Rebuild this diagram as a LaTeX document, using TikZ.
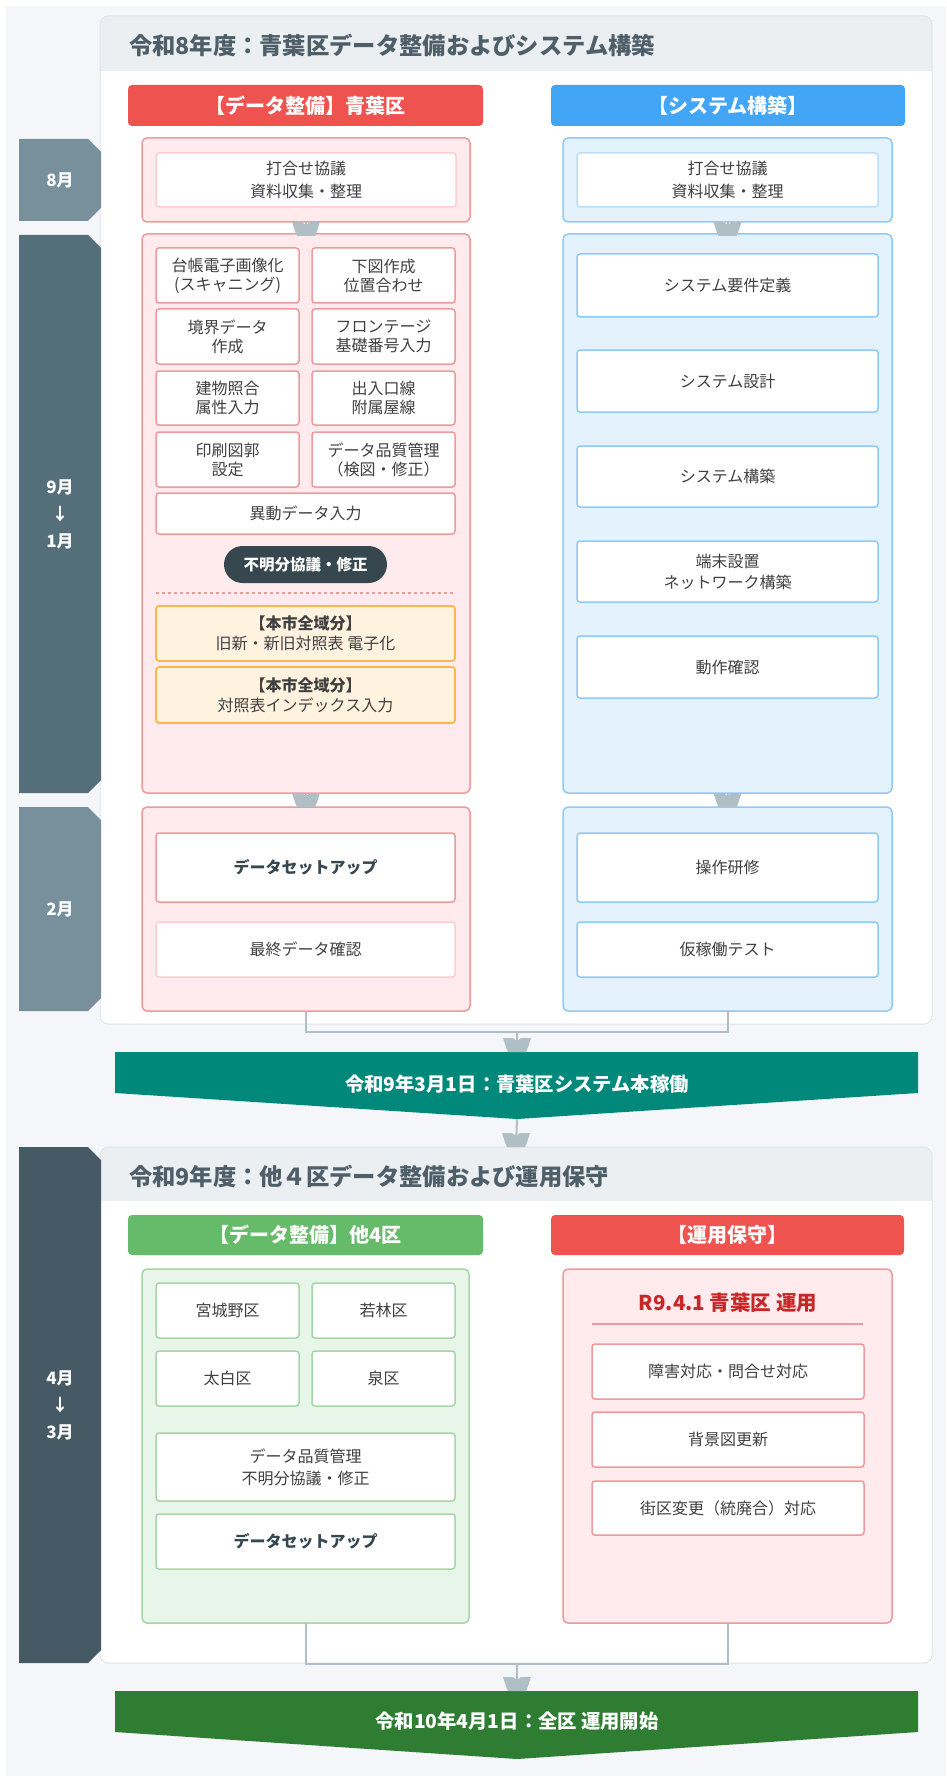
\documentclass[tikz,border=0pt]{standalone}
\usepackage{fontspec}
\setmainfont{Noto Sans CJK JP}
\usetikzlibrary{calc}
\definecolor{pagebg}{HTML}{F4F6F9}
\definecolor{panelborder}{HTML}{DFE4E9}
\definecolor{bandbg}{HTML}{ECEFF1}
\definecolor{titlecol}{HTML}{4E5F69}
\definecolor{redhead}{HTML}{EF5350}
\definecolor{bluehead}{HTML}{42A5F5}
\definecolor{greenhead}{HTML}{66BB6A}
\definecolor{redfill}{HTML}{FFEBEE}
\definecolor{redline}{HTML}{EF9A9A}
\definecolor{redlight}{HTML}{FFCDD2}
\definecolor{bluefill}{HTML}{E3F2FD}
\definecolor{blueline}{HTML}{90CAF9}
\definecolor{bluelight}{HTML}{BBDEFB}
\definecolor{greenfill}{HTML}{E8F5E9}
\definecolor{greenline}{HTML}{A5D6A7}
\definecolor{orangefill}{HTML}{FFF3E0}
\definecolor{orangeline}{HTML}{FFB74D}
\definecolor{pillcol}{HTML}{37474F}
\definecolor{conncol}{HTML}{B0BEC5}
\definecolor{tealcol}{HTML}{00897B}
\definecolor{dkgreen}{HTML}{2E7D32}
\definecolor{txt}{HTML}{404040}
\definecolor{monA}{HTML}{78909C}
\definecolor{monB}{HTML}{546E7A}
\definecolor{monC}{HTML}{455A64}
\definecolor{darkred}{HTML}{C62828}
\newcommand\boxnode[7]{\node[#1, minimum width={(#5-#3)*1pt}, minimum height={(#6-#4)*1pt}] (#2) at ({(#3+#5)/2},{(#4+#6)/2}) {#7};}
\newcommand\monthlab[5]{\fill[#4] (19,#2) -- (88,#2) -- (101,#2+13) -- (101,#3-13) -- (88,#3) -- (19,#3) -- cycle;
  \node[monthtext] (#1) at (60,{(#2+#3)/2}) {#5};}
\newcommand\blobat[1]{\fill[conncol, shift={#1}] (-14,0) -- (-4,0) -- (0,3) -- (4,0) -- (14,0) .. controls (12,6) and (11,10) .. (9,14) -- (-9,14) .. controls (-11,10) and (-12,6) .. (-14,0) -- cycle;}
\tikzset{
  every node/.style={inner sep=0pt, outer sep=0pt, align=center},
  panel/.style={fill=white},
  colhead/.style={rounded corners=4pt, text=white, font=\fontsize{20}{22}\selectfont\bfseries},
  colbox/.style={fill=#1fill, draw=#1line, line width=1.5pt, rounded corners=5pt},
  cellbox/.style={fill=white, draw=#1, line width=1.5pt, rounded corners=3pt, text=txt, font=\fontsize{16}{19}\selectfont},
  boldcell/.style={font=\fontsize{16}{19}\selectfont\bfseries, text=pillcol},
  orangebox/.style={fill=orangefill, draw=orangeline, line width=1.8pt, rounded corners=3pt, text=txt, font=\fontsize{16}{20}\selectfont},
  title/.style={anchor=west, text=titlecol, font=\fontsize{23.3}{26}\selectfont\bfseries},
  monthtext/.style={text=white, font=\fontsize{17}{27}\selectfont\bfseries},
  bannertext/.style={text=white, font=\fontsize{19.3}{22}\selectfont\bfseries},
  connline/.style={draw=conncol, line width=2pt},
}
\begin{document}
\begin{tikzpicture}[x=1pt,y=-1pt]
\useasboundingbox (0,0) rectangle (946,1776);
\fill[white] (0,0) rectangle (946,1776);
\fill[pagebg] (6,6) rectangle (946,1776);

% ---------------- Panel 1 ----------------
\boxnode{panel}{p1}{100}{16}{932}{1024}{}
\begin{scope}
  \clip[rounded corners=8pt] (100,16) rectangle (932,1024);
  \fill[white] (100,16) rectangle (932,1024);
  \fill[bandbg] (100,16) rectangle (932,71);
\end{scope}
\draw[panelborder, line width=1pt, rounded corners=8pt] (p1.north west) rectangle (p1.south east);
\node[title] (t1) at (129,45) {令和8年度：青葉区データ整備およびシステム構築};

\boxnode{colhead, fill=redhead}{h1}{128}{85}{483}{126}{【データ整備】青葉区}
\boxnode{colhead, fill=bluehead}{h2}{551}{85}{905}{126}{【システム構築】}

\monthlab{m1}{139}{221}{monA}{8月}
\monthlab{m2}{235}{793}{monB}{9月\\↓\\1月}
\monthlab{m3}{807}{1011}{monA}{2月}

% red column
\boxnode{colbox=red}{r1}{142}{138}{470}{222}{}
\boxnode{cellbox=redlight, font=\fontsize{16}{23}\selectfont}{r1a}{156}{153}{456}{207}{打合せ協議\\資料収集・整理}
\boxnode{colbox=red}{r2}{142}{234}{470}{793}{}
\boxnode{cellbox=redline}{c11}{156}{248}{299}{303}{台帳電子画像化\\(スキャニング)}
\boxnode{cellbox=redline}{c12}{312}{248}{455}{303}{下図作成\\位置合わせ}
\boxnode{cellbox=redline}{c21}{156}{309}{299}{364}{境界データ\\作成}
\boxnode{cellbox=redline}{c22}{312}{309}{455}{364}{フロンテージ\\基礎番号入力}
\boxnode{cellbox=redline}{c31}{156}{371}{299}{425}{建物照合\\属性入力}
\boxnode{cellbox=redline}{c32}{312}{371}{455}{425}{出入口線\\附属屋線}
\boxnode{cellbox=redline}{c41}{156}{432}{299}{487}{印刷図郭\\設定}
\boxnode{cellbox=redline}{c42}{312}{432}{455}{487}{データ品質管理\\（検図・修正）}
\boxnode{cellbox=redline}{c5}{156}{493}{455}{534}{異動データ入力}
\boxnode{fill=pillcol, rounded corners=18.5pt, text=white, font=\fontsize{15.5}{18}\selectfont\bfseries}{pill}{224}{546}{387}{583}{不明分協議・修正}
\coordinate (dl1) at (156,593);
\coordinate (dl2) at (455,593);
\draw[redline, line width=1.8pt, dash pattern=on 3pt off 3pt] (dl1) -- (dl2);
\boxnode{orangebox}{o1}{156}{606}{455}{661}{\textbf{【本市全域分】}\\旧新・新旧対照表 電子化}
\boxnode{orangebox}{o2}{156}{667}{455}{723}{\textbf{【本市全域分】}\\対照表インデックス入力}
\boxnode{colbox=red}{r3}{142}{807}{470}{1011}{}
\boxnode{cellbox=redline, boldcell}{r3a}{156}{833}{455}{902}{データセットアップ}
\boxnode{cellbox=redlight}{r3b}{156}{922}{455}{977}{最終データ確認}

% blue column
\boxnode{colbox=blue}{b1}{563}{138}{892}{222}{}
\boxnode{cellbox=bluelight, font=\fontsize{16}{23}\selectfont}{b1a}{577}{153}{878}{207}{打合せ協議\\資料収集・整理}
\boxnode{colbox=blue}{b2}{563}{234}{892}{793}{}
\boxnode{cellbox=blueline}{s1}{577}{254}{878}{317}{システム要件定義}
\boxnode{cellbox=blueline}{s2}{577}{350}{878}{412}{システム設計}
\boxnode{cellbox=blueline}{s3}{577}{446}{878}{507}{システム構築}
\boxnode{cellbox=blueline, font=\fontsize{16}{21}\selectfont}{s4}{577}{541}{878}{602}{端末設置\\ネットワーク構築}
\boxnode{cellbox=blueline}{s5}{577}{636}{878}{698}{動作確認}
\boxnode{colbox=blue}{b3}{563}{807}{892}{1011}{}
\boxnode{cellbox=blueline}{b3a}{577}{833}{878}{902}{操作研修}
\boxnode{cellbox=blueline}{b3b}{577}{922}{878}{977}{仮稼働テスト}

% connectors inside panel 1
\draw[connline] (r1.south) -- (r2.north);
\draw[connline] (r2.south) -- (r3.north);
\draw[connline] (b1.south) -- (b2.north);
\draw[connline] (b2.south) -- (b3.north);
\blobat{(r1.south)}
\blobat{(r2.south)}
\blobat{(b1.south)}
\blobat{(b2.south)}

% banner 1
\fill[tealcol] (115,1052) -- (918,1052) -- (918,1093) -- (517,1119) -- (115,1093) -- cycle;
\coordinate (ban1top) at (517,1052);
\coordinate (ban1tip) at (517,1119);
\node[bannertext] (ban1) at (517,1084) {令和9年3月1日：青葉区システム本稼働};
\coordinate (j1) at (517,1032);
\draw[connline] (r3.south) -- ++(0,21) -| (b3.south);
\draw[connline] (j1) -- (ban1top);
\blobat{($(ban1top)+(0,-14)$)}

% ---------------- Panel 2 ----------------
\boxnode{panel}{p2}{100}{1147}{932}{1663}{}
\begin{scope}
  \clip[rounded corners=8pt] (100,1147) rectangle (932,1663);
  \fill[white] (100,1147) rectangle (932,1663);
  \fill[bandbg] (100,1147) rectangle (932,1201);
\end{scope}
\draw[panelborder, line width=1pt, rounded corners=8pt] (p2.north west) rectangle (p2.south east);
\node[title] (t2) at (129,1176) {令和9年度：他４区データ整備および運用保守};
\draw[connline] (ban1tip) -- (p2.north);
\blobat{($(p2.north)+(0,-14)$)}

\monthlab{m4}{1147}{1663}{monC}{4月\\↓\\3月}

\boxnode{colhead, fill=greenhead}{h3}{128}{1215}{483}{1255}{【データ整備】他4区}
\boxnode{colhead, fill=redhead}{h4}{551}{1215}{904}{1255}{【運用保守】}

\boxnode{colbox=green}{g}{142}{1269}{469}{1623}{}
\boxnode{cellbox=greenline}{g11}{156}{1283}{299}{1338}{宮城野区}
\boxnode{cellbox=greenline}{g12}{312}{1283}{455}{1338}{若林区}
\boxnode{cellbox=greenline}{g21}{156}{1351}{299}{1406}{太白区}
\boxnode{cellbox=greenline}{g22}{312}{1351}{455}{1406}{泉区}
\boxnode{cellbox=greenline, font=\fontsize{16}{22}\selectfont}{g3}{156}{1433}{455}{1501}{データ品質管理\\不明分協議・修正}
\boxnode{cellbox=greenline, boldcell}{g4}{156}{1514}{455}{1569}{データセットアップ}

\boxnode{colbox=red}{mt}{563}{1269}{892}{1623}{}
\node[text=darkred, font=\fontsize{20.5}{22}\selectfont\bfseries] (r9) at (728,1303) {R9.4.1 青葉区 運用};
\coordinate (ul1) at (592,1324);
\coordinate (ul2) at (863,1324);
\draw[redline, line width=2pt] (ul1) -- (ul2);
\boxnode{cellbox=redline}{mt1}{592}{1344}{864}{1399}{障害対応・問合せ対応}
\boxnode{cellbox=redline}{mt2}{592}{1412}{864}{1467}{背景図更新}
\boxnode{cellbox=redline}{mt3}{592}{1481}{864}{1535}{街区変更（統廃合）対応}

% banner 2
\fill[dkgreen] (115,1691) -- (918,1691) -- (918,1732) -- (517,1759) -- (115,1732) -- cycle;
\coordinate (ban2top) at (517,1691);
\node[bannertext] (ban2) at (517,1721) {令和10年4月1日：全区 運用開始};
\coordinate (j2) at (517,1664);
\draw[connline] (g.south) -- ++(0,41) -| (mt.south);
\draw[connline] (j2) -- (ban2top);
\blobat{($(ban2top)+(0,-14)$)}
\end{tikzpicture}
\end{document}
